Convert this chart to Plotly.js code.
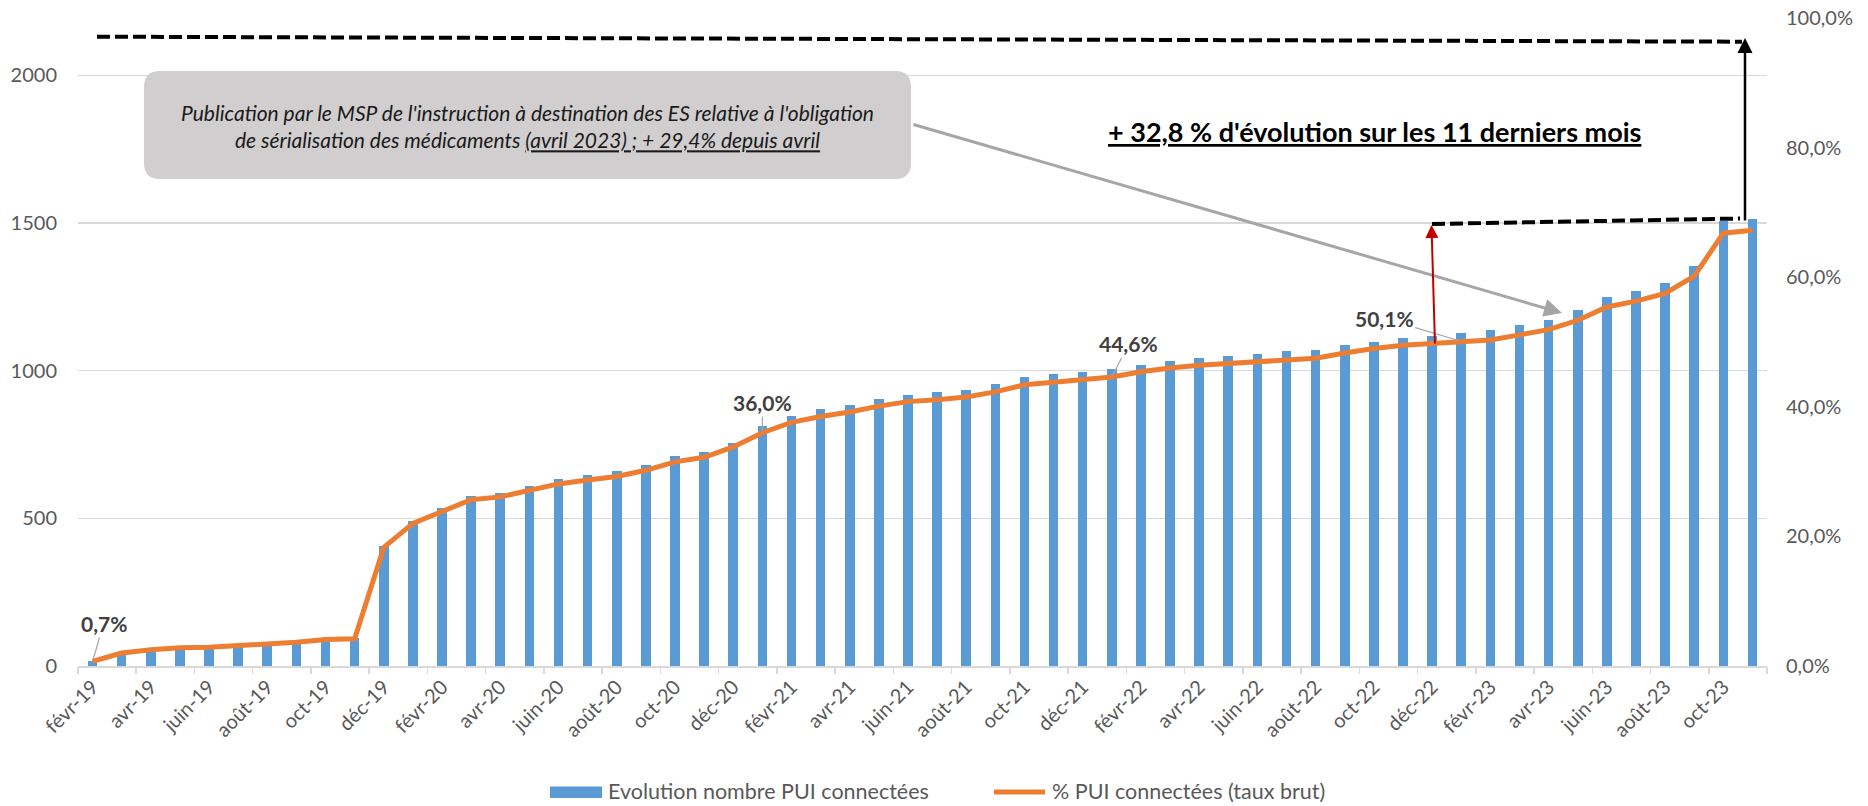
<!DOCTYPE html>
<html><head><meta charset="utf-8">
<script src="https://cdn.plot.ly/plotly-3.0.1.min.js"></script>
<style>html,body{margin:0;padding:0;background:#fff;} #chart{width:1868px;height:806px;}</style>
</head><body><div id="chart"></div>
<script>
const months = ['févr-19','mars-19','avr-19','mai-19','juin-19','juil-19','août-19','sept-19','oct-19','nov-19','déc-19',
  'janv-20','févr-20','mars-20','avr-20','mai-20','juin-20','juil-20','août-20','sept-20','oct-20','nov-20','déc-20',
  'janv-21','févr-21','mars-21','avr-21','mai-21','juin-21','juil-21','août-21','sept-21','oct-21','nov-21','déc-21',
  'janv-22','févr-22','mars-22','avr-22','mai-22','juin-22','juil-22','août-22','sept-22','oct-22','nov-22','déc-22',
  'janv-23','févr-23','mars-23','avr-23','mai-23','juin-23','juil-23','août-23','sept-23','oct-23','nov-23'];
const nbPUI = [16,39,50,55,61,67,72,80,88,95,408,
  492,536,576,586,610,633,648,660,681,710,723,756,
  811,848,869,884,903,919,929,935,954,979,987,997,
  1005,1020,1033,1043,1051,1057,1066,1071,1087,1098,1112,1119,
  1128,1136,1153,1172,1206,1248,1270,1296,1355,1508,1514];
const pctPUI = [0.7,2.0,2.5,2.8,2.9,3.15,3.4,3.65,4.1,4.2,18.3,
  22.0,23.85,25.65,26.1,27.1,28.1,28.7,29.25,30.2,31.5,32.2,33.8,
  36.0,37.6,38.5,39.2,40.1,40.8,41.1,41.5,42.3,43.4,43.8,44.2,
  44.6,45.4,46.0,46.4,46.7,46.9,47.3,47.5,48.3,49.0,49.5,49.75,
  50.1,50.3,51.1,51.9,53.35,55.4,56.3,57.5,60.15,66.8,67.25];
const tickLabels = months.filter((m, i) => i % 2 === 0);
const leftTicks = [0, 500, 1000, 1500, 2000];
const rightTicks = [0, 20, 40, 60, 80, 100];
const seriesNames = ['Evolution nombre PUI connectées', '% PUI connectées (taux brut)'];
const labelledMonths = ['févr-19','janv-21','janv-22','janv-23'];
const labelOffsets = [[11,-38],[0,-30],[17,-33],[-77,-23]];

const FONT = 'Lato, "Open Sans", sans-serif';
const BLUE = '#5B9BD5', ORANGE = '#ED7D31';
const boundaries = [];
for (let b = -0.5; b <= months.length - 0.5; b += 2) boundaries.push(b);
const fmtPct = v => v.toFixed(1).replace('.', ',') + '%';

const traces = [
  {type:'bar', name:seriesNames[0], x:months, y:nbPUI,
   marker:{color:BLUE}, width:0.33, xaxis:'x', yaxis:'y', showlegend:false},
  {type:'scatter', mode:'lines', name:seriesNames[1], x:months, y:pctPUI,
   line:{color:ORANGE, width:5}, xaxis:'x', yaxis:'y2', showlegend:false},
  {type:'scatter', mode:'none', x:[], y:[], xaxis:'x2', yaxis:'y', showlegend:false, hoverinfo:'skip'}
];

const annotations = labelledMonths.map((m, k) => {
  const i = months.indexOf(m);
  return {x:m, y:pctPUI[i], xref:'x', yref:'y2',
    text:'<b>' + fmtPct(pctPUI[i]) + '</b>',
    showarrow:true, arrowhead:0, arrowwidth:1.2, arrowcolor:'#A6A6A6',
    ax:labelOffsets[k][0], ay:labelOffsets[k][1], standoff:2,
    font:{family:FONT, size:21, color:'#404040'}};
});

function px2x(p){ return (p - 78) / 1689; }
function py2y(p){ return (666 - p) / 648; }

annotations.push(
  {xref:'paper', yref:'paper', x:px2x(527.5), y:py2y(126), xanchor:'center', yanchor:'middle', showarrow:false,
   text:"<i>Publication par le MSP de l'instruction à destination des ES relative à l'obligation<br>de sérialisation des médicaments <u>(avril 2023) ; + 29,4% depuis avril</u></i>",
   font:{family:FONT, size:21, color:'#1a1a1a'}, align:'center'},
  {xref:'paper', yref:'paper', x:px2x(1374), y:py2y(131.7), xanchor:'center', yanchor:'middle', showarrow:false,
   text:"<b><u>+ 32,8 % d'évolution sur les 11 derniers mois</u></b>",
   font:{family:FONT, size:27, color:'#000'}},
  {xref:'paper', yref:'paper', x:px2x(1562), y:py2y(313), showarrow:true, text:'',
   ax:912-1562, ay:124-313, arrowhead:2, arrowsize:1.2, arrowwidth:3, arrowcolor:'#A6A6A6', standoff:0},
  {xref:'paper', yref:'paper', x:px2x(1745), y:py2y(38), showarrow:true, text:'',
   ax:0, ay:184, arrowhead:2, arrowsize:1.2, arrowwidth:2.5, arrowcolor:'#000', standoff:0},
  {xref:'paper', yref:'paper', x:px2x(1431.5), y:py2y(225), showarrow:true, text:'',
   ax:3.5, ay:120, arrowhead:2, arrowsize:1.3, arrowwidth:2, arrowcolor:'#C00000', standoff:0},
  // legend texts
  {xref:'paper', yref:'paper', x:px2x(606), y:py2y(791), xanchor:'left', yanchor:'middle', showarrow:false,
   text:seriesNames[0], font:{family:FONT, size:21.5, color:'#595959'}},
  {xref:'paper', yref:'paper', x:px2x(1050), y:py2y(791), xanchor:'left', yanchor:'middle', showarrow:false,
   text:seriesNames[1], font:{family:FONT, size:21.5, color:'#595959'}}
);

const bx0 = px2x(144), bx1 = px2x(911), by0 = py2y(179), by1 = py2y(71);
const rx = 16/1689, ry = 16/648;
const boxPath = `M${bx0+rx},${by0} L${bx1-rx},${by0} Q${bx1},${by0} ${bx1},${by0+ry} L${bx1},${by1-ry} Q${bx1},${by1} ${bx1-rx},${by1} L${bx0+rx},${by1} Q${bx0},${by1} ${bx0},${by1-ry} L${bx0},${by0+ry} Q${bx0},${by0} ${bx0+rx},${by0} Z`;

const shapes = [
  {type:'path', xref:'paper', yref:'paper', path:boxPath, fillcolor:'#D0CECE', line:{width:0}, layer:'above'},
  {type:'line', xref:'paper', yref:'paper', x0:px2x(97), y0:py2y(36.7), x1:px2x(1742), y1:py2y(41.7),
   line:{color:'#000', width:4, dash:'13px,5px'}},
  {type:'line', xref:'paper', yref:'paper', x0:px2x(1432), y0:py2y(224), x1:px2x(1740), y1:py2y(218.5),
   line:{color:'#000', width:4, dash:'13px,5px'}},
  // legend symbols
  {type:'rect', xref:'paper', yref:'paper', x0:px2x(550), x1:px2x(602), y0:py2y(798), y1:py2y(786.5),
   fillcolor:BLUE, line:{width:0}},
  {type:'line', xref:'paper', yref:'paper', x0:px2x(994), x1:px2x(1045), y0:py2y(792), y1:py2y(792),
   line:{color:ORANGE, width:5}}
];

const layout = {
  width:1868, height:806,
  margin:{l:78, r:101, t:18, b:140, autoexpand:false},
  paper_bgcolor:'#fff', plot_bgcolor:'#fff',
  separators:', ',
  font:{family:FONT, size:20, color:'#595959'},
  bargap:0,
  xaxis:{type:'category', tickmode:'array', tickvals:tickLabels, ticktext:tickLabels,
    tickangle:-45, ticks:'', showline:true, linecolor:'#D9D9D9', linewidth:1.5,
    showgrid:false, zeroline:false, range:[-0.5, months.length-0.5],
    tickfont:{family:FONT, size:20, color:'#595959'}, automargin:false},
  xaxis2:{overlaying:'x', type:'linear', range:[-0.5, months.length-0.5], tickmode:'array',
    tickvals:boundaries, ticks:'outside', ticklen:7, tickwidth:1.5, tickcolor:'#D9D9D9',
    showticklabels:false, showgrid:false, zeroline:false, showline:false, anchor:'y', side:'bottom'},
  yaxis:{range:[0, 2194], tickmode:'array', tickvals:leftTicks, ticktext:leftTicks.map(String),
    showgrid:true, gridcolor:'#D9D9D9', gridwidth:1.5, zeroline:false, showline:false,
    ticklabelstandoff:20, tickfont:{family:FONT, size:20, color:'#595959'}, automargin:false},
  yaxis2:{overlaying:'y', side:'right', range:[0,100], tickmode:'array', tickvals:rightTicks,
    ticktext:rightTicks.map(fmtPct), showgrid:false, zeroline:false, showline:false,
    ticklabelstandoff:18, tickfont:{family:FONT, size:20, color:'#595959'}, automargin:false},
  showlegend:false,
  annotations:annotations,
  shapes:shapes
};

Plotly.newPlot('chart', traces, layout, {displayModeBar:false, staticPlot:true});
</script></body></html>
